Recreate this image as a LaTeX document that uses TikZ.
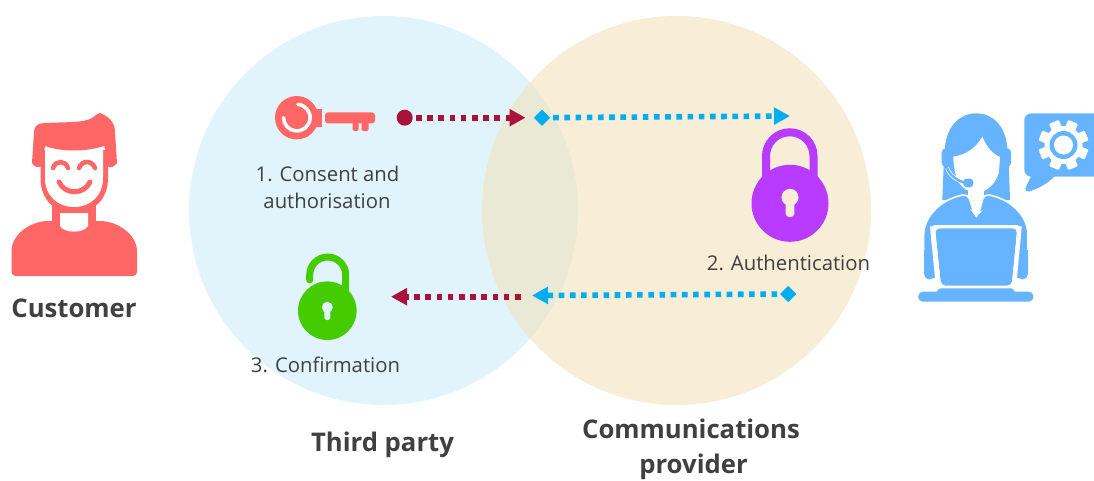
\documentclass[tikz,border=0pt]{standalone}
\usepackage{fontspec}
\setmainfont{Open Sans}
\usetikzlibrary{arrows.meta,shapes.geometric}
\definecolor{crimson}{HTML}{A91239}
\definecolor{skyb}{HTML}{00AEEF}
\definecolor{leftc}{HTML}{E1F4FB}
\definecolor{rightc}{HTML}{F8EDD6}
\definecolor{overlapc}{HTML}{E9E9D6}
\definecolor{redicon}{HTML}{FF6666}
\definecolor{blueicon}{HTML}{66B3FF}
\definecolor{purp}{HTML}{B83BFF}
\definecolor{grn}{HTML}{44CC00}
\definecolor{txt}{HTML}{404040}
\tikzset{
  x=1pt,y=-1pt,
  small/.style={inner sep=0pt,anchor=base,text=txt,font=\fontsize{20.3}{22}\selectfont},
  big/.style={inner sep=0pt,anchor=base,text=txt,font=\fontsize{25.7}{30}\selectfont\bfseries},
  dotline/.style={line width=5.6pt,dash pattern=on 5.6pt off 5.6pt},
  redline/.style={dotline,draw=crimson,-{Triangle[length=16pt,width=16.5pt,fill=crimson]}},
  blueline/.style={dotline,draw=skyb,-{Triangle[length=16pt,width=16.5pt,fill=skyb]}},
  bluediamond/.style={diamond,fill=skyb,inner sep=0pt,minimum width=16.5pt,minimum height=16.5pt},
  reddot/.style={circle,fill=crimson,inner sep=0pt,minimum size=16pt},
  venn/.style={circle,inner sep=0pt,minimum size=389pt}
}
\begin{document}
\begin{tikzpicture}
\useasboundingbox (0,0) rectangle (1094,480);
\fill[white] (0,0) rectangle (1094,480);
% Venn
\node[venn,fill=leftc] (third) at (383.5,210.5) {};
\node[venn,fill=rightc] (provider) at (676.5,210.5) {};
\begin{scope}
  \clip (383.5,210.5) circle (194.5);
  \fill[overlapc] (676.5,210.5) circle (194.5);
\end{scope}
% Customer icon
\begin{scope}
  \fill[redicon,rounded corners=4pt] (11.5,276) -- (11.5,255) .. controls (11.5,235) and (30,221) .. (52,221) -- (96,221) .. controls (118,221) and (137,235) .. (137,255) -- (137,276) -- cycle;
  \fill[redicon] (52,203) rectangle (96,224);
  \fill[white] (60,213) -- (88,213) -- (88,226) .. controls (84,233.5) and (64,233.5) .. (60,226) -- cycle;
  % head
  \fill[redicon] (40.5,150) -- (40.5,178) .. controls (40.5,200) and (55,213) .. (74,213) .. controls (93,213) and (108,200) .. (108,178) -- (108,150) -- cycle;
  \fill[white] (45,145) -- (103,145) -- (103,178) .. controls (103,196) and (90,207) .. (74,207) .. controls (58,207) and (45,196) .. (45,178) -- cycle;
  % hair
  \fill[redicon] (32,163) -- (34,132) .. controls (34,126) and (38,123) .. (45,123) .. controls (62,122) and (85,123) .. (92,118) .. controls (96,115) and (98,113) .. (100,113) .. controls (108,116) and (115,122) .. (115,132) -- (117,163) .. controls (113,168) and (110,168) .. (107,166) -- (104.5,146) .. controls (85,152) and (62,152) .. (45,146) -- (42,166) .. controls (38,168) and (34,167) .. (32,163) -- cycle;
  % eyes and smile
  \draw[redicon,line width=4.6pt,line cap=round] (53,168) .. controls (56,160) and (65,160) .. (68,168);
  \draw[redicon,line width=4.6pt,line cap=round] (79,168) .. controls (82,160) and (92,160) .. (95,168);
  \draw[redicon,line width=5pt,line cap=round] (59,182) .. controls (65,195) and (84,195) .. (90,182);
\end{scope}
% Agent icon
\begin{scope}
  \fill[blueicon] (942.3,200) -- (943.5,170) -- (945,146.7) .. controls (947,126) and (960,113.3) .. (976,113.3) .. controls (993,113.3) and (1005,126) .. (1007.3,146.7) -- (1009,170) -- (1010,200) -- cycle;
  % face
  \fill[white] (952.7,156.7) .. controls (966,155) and (976,148) .. (982.3,136.7) .. controls (987,148) and (993,154) .. (1000,157) -- (999,172) .. controls (996,184) and (986,192.7) .. (976,192.7) .. controls (966,192.7) and (957,184) .. (955,172) -- cycle;
  \fill[white] (968,186) rectangle (984,200);
  % body
  \fill[blueicon,draw=white,line width=1.6pt,rounded corners=5pt] (923.5,279) -- (923.5,240) .. controls (924,215) and (942,199) .. (968,194) -- (974,213) -- (976,216) -- (979,213) -- (984,194) .. controls (1010,199) and (1028,215) .. (1028,240) -- (1028,279) -- cycle;
  \fill[white,rounded corners=5pt] (930,225) -- (1021.7,225) -- (1016,289) -- (936,289) -- cycle;
  \fill[white] (920,279) rectangle (1032,290);
  \fill[blueicon,rounded corners=5pt] (935,228.3) -- (1017.3,228.3) -- (1011.7,285.7) -- (941,285.7) -- cycle;
  \fill[blueicon,rounded corners=4.5pt] (918.3,291.7) rectangle (1033.3,301.7);
  \fill[blueicon,rounded corners=2pt] (938.3,288.3) -- (1013.3,288.3) -- (1015,293) -- (936.5,293) -- cycle;
  % arm ends
  \fill[blueicon] (929.5,274) circle (5.5);
  \fill[blueicon] (1022.5,274) circle (5.5);
  \fill[blueicon] (924,250) -- (934.5,250) -- (935,274) -- (924,274) -- cycle;
  \fill[blueicon] (1017.5,250) -- (1028,250) -- (1028,274) -- (1017,274) -- cycle;
  \fill[white] (930,226) -- (935,228.3) -- (941,285.7) -- (936,289) -- cycle;
  \fill[white] (1021.7,226) -- (1017.3,228.3) -- (1011.7,285.7) -- (1016,289) -- cycle;
  % headset
  \fill[blueicon,rounded corners=4pt] (941.7,148.3) rectangle (953.3,167);
  \fill[blueicon,rounded corners=4pt] (1000,148.3) rectangle (1011,167);
  \draw[white,line width=4pt] (947,168) .. controls (950,176) and (958,181) .. (966,183);
  \draw[blueicon,line width=2.4pt] (947,168) .. controls (950,176) and (958,181) .. (966,183);
  \fill[blueicon,rounded corners=3.5pt] (963.3,178.5) rectangle (973.3,187.3);
  % bubble
  \fill[blueicon,rounded corners=7pt] (1024.3,113.3) rectangle (1104,176.7);
  \fill[blueicon,rounded corners=2pt] (1033,172) -- (1024.5,190) -- (1027,192) .. controls (1038,189) and (1048,183) .. (1056,175) -- cycle;
  \begin{scope}[shift={(1063.5,145)}]
    \fill[white] (0,0) circle (19);
    \foreach \a in {22.5,67.5,...,337.5}{
      \fill[white,rotate=\a,rounded corners=1pt] (15,-5.3) rectangle (25,5.3);
    }
    \fill[blueicon] (0,0) circle (14);
    \fill[white] (0,0) circle (9.5);
  \end{scope}
\end{scope}
% Key
\begin{scope}
  \fill[redicon] (296.7,117.7) circle (21.7);
  \fill[redicon] (312,108.5) rectangle (321.5,127);
  \draw[white,line width=3.6pt,line cap=round] (298,104.4) arc[start angle=-85,end angle=180,radius=13.3];
  \fill[redicon,rounded corners=3pt] (325,112.3) -- (375,112.3) -- (375,123.4) -- (325,123.4) -- cycle;
  \fill[redicon,rounded corners=1.5pt] (352.5,121) rectangle (358.5,131);
  \fill[redicon,rounded corners=1.5pt] (361.5,121) rectangle (368.5,131);
\end{scope}
% Purple lock
\begin{scope}
  \draw[purp,line width=8pt] (766,180) -- (766,156) arc[start angle=180,end angle=360,radius=23.75] -- (813.5,180);
  \fill[purp] (790,203.3) circle (38.5);
  \fill[rightc] (790,197.3) circle (8.5);
  \fill[rightc,rounded corners=3.5pt] (785.7,197) rectangle (794.3,217);
\end{scope}
% Green lock
\begin{scope}
  \draw[grn,line width=7pt,line cap=round] (309.7,280) -- (309.7,275) arc[start angle=180,end angle=360,radius=18] -- (345.7,295);
  \fill[grn] (327.3,310.7) circle (29.3);
  \fill[leftc] (327.3,307.3) circle (5.5);
  \fill[leftc,rounded corners=2.5pt] (324.3,307) rectangle (330.3,320);
\end{scope}
% Connectors
\node[reddot] (startdot) at (404.7,117.7) {};
\coordinate (redtip) at (525.5,117.7);
\draw[redline] (startdot.center) -- (redtip);
\node[bluediamond] (bluestart) at (542,117.7) {};
\coordinate (bluetip) at (790,116);
\draw[blueline] (bluestart.center) -- (bluetip);
\node[bluediamond] (blueend) at (788.3,294) {};
\coordinate (backtip) at (532,295.5);
\draw[blueline] (blueend.center) -- (backtip);
\coordinate (redfrom) at (520.5,296.7);
\coordinate (redback) at (391,296.7);
\draw[redline] (redfrom) -- (redback);
% Text
\node[small] (t1a) at (327.5,181) {1. Consent and};
\node[small] (t1b) at (327,208.5) {authorisation};
\node[small] (t2) at (788.5,270) {2. Authentication};
\node[small] (t3) at (325.5,372) {3. Confirmation};
\node[big] (cust) at (74,317) {Customer};
\node[big] (tp) at (382.5,451) {Third party};
\node[big] (cp1) at (691,438) {Communications};
\node[big] (cp2) at (693.5,473) {provider};
\end{tikzpicture}
\end{document}
